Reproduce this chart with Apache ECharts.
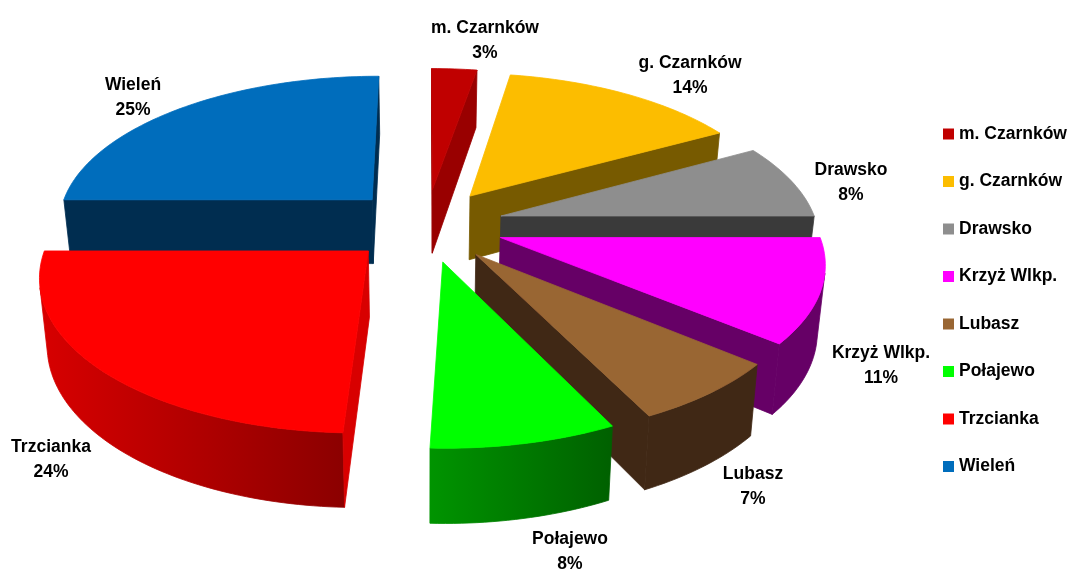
<!DOCTYPE html>
<html>
<head>
<meta charset="utf-8">
<title>Udział gmin</title>
<style>
  html, body { margin: 0; padding: 0; background: #fff; }
  #chart { width: 1070px; height: 570px; }
</style>
<script src="https://cdn.jsdelivr.net/npm/echarts@6/dist/echarts.min.js"></script>
</head>
<body>
<div id="chart"></div>
<script>
// dane
const categories = ['m. Czarnków', 'g. Czarnków', 'Drawsko', 'Krzyż Wlkp.', 'Lubasz', 'Połajewo', 'Trzcianka', 'Wieleń'];
const shares = [2.7, 14.3, 8, 11, 6.7, 7.95, 24.35, 25];

// kolory: wierzch, bok radialny, bok łukowy (prawa -> lewa strona)
const topColors = ['#C00000', '#FCBD00', '#8E8E8E', '#FF00FF', '#996633', '#00FF00', '#FF0000', '#006DBC'];
const edgeColors = ['#990000', '#775A00', '#3A3A3A', '#660066', '#402815', '#006000', '#D80000', '#002D50'];
const arcRight = ['#990000', '#775A00', '#3A3A3A', '#660066', '#402815', '#006000', '#8B0000', '#002D50'];
const arcLeft = ['#990000', '#775A00', '#3A3A3A', '#660066', '#402815', '#009400', '#D80000', '#002D50'];
// środki etykiet
const labelAt = [[485, 41], [690, 76], [851, 183], [881, 366], [753, 487], [570, 552], [51, 460], [133, 98]];

// geometria "3D"
const cx = 426, cy = 225;
const R = 316;        // promień
const tilt = 0.468;   // spłaszczenie elipsy
const thick = 65;     // grubość
const persp = 7;      // perspektywa
const shrink = 0.98;  // dolna podstawa zbiega do środka
const explode = 0.247;
const total = shares.reduce((a, b) => a + b, 0);

function project(x, y, down) {
  const w = 1 - y / persp;
  const sx = R * x / w * (down ? shrink : 1);
  const drop = down ? thick / Math.pow(w, 0.75) : 0;
  return [cx + sx, cy + R * tilt * y / w + drop];
}
function area(p) {
  let s = 0;
  for (let i = 0; i < p.length; i++) {
    const q = p[(i + 1) % p.length];
    s += p[i][0] * q[1] - q[0] * p[i][1];
  }
  return s / 2;
}
function poly(points, fill) {
  return { type: 'polygon', shape: { points: points }, style: { fill: fill, stroke: fill, lineWidth: 0.8 } };
}

function sliceItem(i) {
  const before = shares.slice(0, i).reduce((a, b) => a + b, 0);
  const a0 = before / total * Math.PI * 2;
  const a1 = (before + shares[i]) / total * Math.PI * 2;
  const mid = (a0 + a1) / 2;
  const ox = explode * Math.sin(mid), oy = -explode * Math.cos(mid);
  const steps = Math.max(8, Math.round(shares[i] * 3));
  const rim = [];
  for (let s = 0; s <= steps; s++) {
    const a = a0 + (a1 - a0) * s / steps;
    rim.push([ox + Math.sin(a), oy - Math.cos(a)]);
  }
  const top = p => project(p[0], p[1], false);
  const bot = p => project(p[0], p[1], true);
  const apex = [ox, oy];
  const children = [];

  // bok łukowy
  const upper = [], lower = [];
  for (let s = 0; s < steps; s++) {
    const quad = [top(rim[s + 1]), bot(rim[s + 1]), bot(rim[s]), top(rim[s])];
    if (area(quad) < 0) {
      if (!upper.length) { upper.push(top(rim[s])); lower.push(bot(rim[s])); }
      upper.push(top(rim[s + 1]));
      lower.push(bot(rim[s + 1]));
    }
  }
  if (upper.length) {
    const fill = new echarts.graphic.LinearGradient(0, 0, 1, 0, [
      { offset: 0, color: arcLeft[i] },
      { offset: 1, color: arcRight[i] }
    ]);
    children.push(poly(upper.concat(lower.slice().reverse()), fill));
  }

  // ściany radialne, tylko te zwrócone do widza
  const first = [top(apex), bot(apex), bot(rim[0]), top(rim[0])];
  const last = [top(rim[steps]), bot(rim[steps]), bot(apex), top(apex)];
  if (area(first) > 0) children.push(poly(first, edgeColors[i]));
  if (area(last) > 0) children.push(poly(last, edgeColors[i]));

  // wierzch
  children.push(poly([top(apex)].concat(rim.map(top)), topColors[i]));

  children.push({
    type: 'text',
    style: {
      text: categories[i] + '\n' + Math.round(shares[i]) + '%',
      x: labelAt[i][0], y: labelAt[i][1],
      align: 'center', verticalAlign: 'middle',
      fontFamily: 'Liberation Sans', fontWeight: 'bold', fontSize: 17.5,
      lineHeight: 25, fill: '#000'
    }
  });
  return { type: 'group', children: children };
}

// kolejność malowania: od tyłu do przodu
function depthOf(i) {
  const before = shares.slice(0, i).reduce((a, b) => a + b, 0);
  return -Math.cos((before + shares[i] / 2) / total * Math.PI * 2);
}

const chart = echarts.init(document.getElementById('chart'), null, { renderer: 'canvas' });
chart.setOption({
  animation: false,
  backgroundColor: '#fff',
  legend: {
    orient: 'vertical',
    left: 938, top: 119,
    itemWidth: 11, itemHeight: 11,
    itemGap: 27.5,
    icon: 'rect',
    data: categories,
    textStyle: { fontFamily: 'Liberation Sans', fontWeight: 'bold', fontSize: 17.5, color: '#000', lineHeight: 20 }
  },
  series: categories.map((name, i) => ({
    type: 'custom',
    name: name,
    coordinateSystem: 'none',
    z: 2 + Math.round((depthOf(i) + 1) * 20),
    itemStyle: { color: topColors[i] },
    data: [shares[i]],
    renderItem: () => sliceItem(i)
  }))
});
</script>
</body>
</html>
